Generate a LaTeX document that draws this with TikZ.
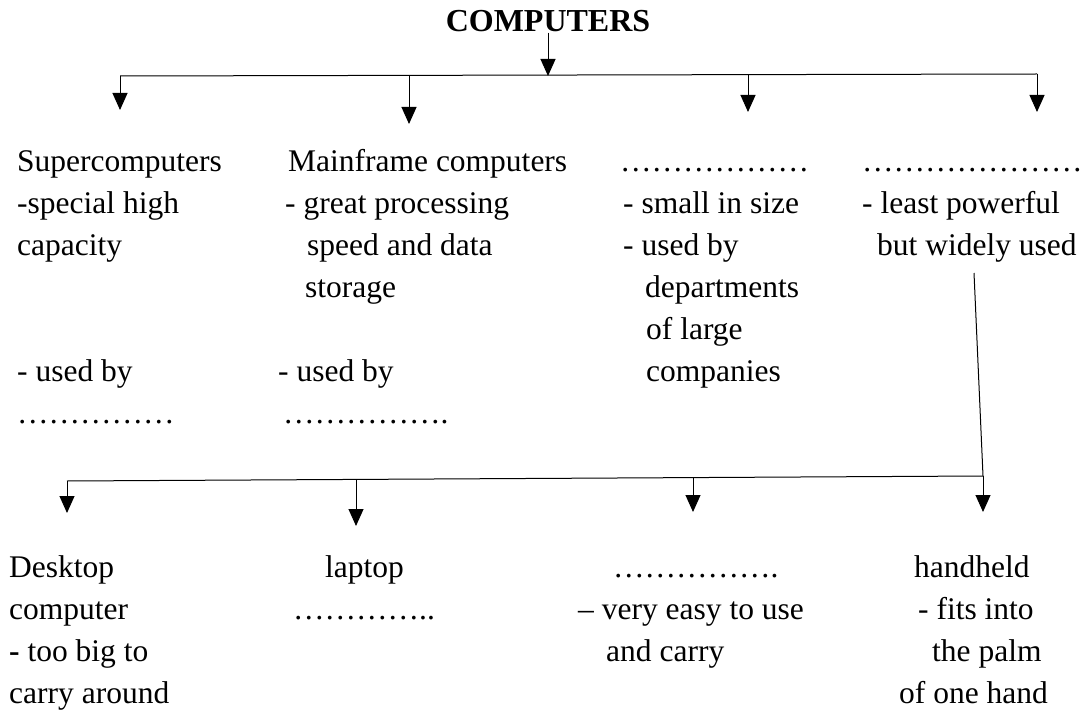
\documentclass[tikz,border=0pt]{standalone}
\usepackage{fontspec}
\setmainfont{Liberation Serif}
\usetikzlibrary{arrows.meta}

\begin{document}
\begin{tikzpicture}[x=1pt, y=-1pt,
  txt/.style={anchor=base west, inner sep=0pt, align=left,
    font=\fontsize{31.5pt}{42pt}\selectfont},
  arr/.style={-{Triangle[width=15pt,length=17pt]}, line width=1pt},
  bus/.style={line width=1pt}]

\useasboundingbox (0,0) rectangle (1083,711);

% Heading
\node (title) [anchor=base, inner sep=0pt, font=\fontsize{32pt}{40pt}\selectfont\bfseries]
  at (548,32) {COMPUTERS};

% First row of branches
\coordinate (t0) at (548,76);
\coordinate (busL) at (120,76);
\coordinate (busB) at (409,76);
\coordinate (busC) at (748,75);
\coordinate (busR) at (1037,74);
\draw[arr] (title.south) -- (t0);
\draw[bus] (busL) -- (busR);

\coordinate (a1) at (120,110);
\coordinate (a2) at (409,124);
\coordinate (a3) at (748,112);
\coordinate (a4) at (1037,112);
\draw[arr] (busL) -- (a1);
\draw[arr] (busB) -- (a2);
\draw[arr] (busC) -- (a3);
\draw[arr] (busR) -- (a4);

% Kinds of computers (each node sits on the baseline of its last line)
\node (super) [txt] at (17,255) {Supercomputers\\-special high\\capacity};
\node (superuse) [txt] at (17,423) {- used by\\……………};

\node (main) [txt] at (285,297)
  {\hspace*{3pt}Mainframe computers\\- great processing\\
   \hspace*{22pt}speed and data\\\hspace*{20pt}storage};
\node (mainuse) [txt] at (278,423) {- used by\\\hspace*{5pt}…………….};

\node (mini) [txt] at (620,381)
  {………………\\\hspace*{3pt}- small in size\\\hspace*{3pt}- used by\\
   \hspace*{25pt}departments\\\hspace*{26pt}of large\\\hspace*{26pt}companies};

\node (micro) [txt] at (862,255)
  {…………………\\- least powerful\\\hspace*{15pt}but widely used};

% Second row of branches
\coordinate (m0) at (974,273);
\coordinate (lowR) at (983,476);
\coordinate (lowL) at (67,481);
\coordinate (lowB) at (356,480);
\coordinate (lowC) at (693,478);
\draw[bus] (m0) -- (lowR);
\draw[bus] (lowL) -- (lowR);

\coordinate (b1) at (67,513);
\coordinate (b2) at (356,526);
\coordinate (b3) at (693,512);
\coordinate (b4) at (983,512);
\draw[arr] (lowL) -- (b1);
\draw[arr] (lowB) -- (b2);
\draw[arr] (lowC) -- (b3);
\draw[arr] (lowR) -- (b4);

% Kinds of microcomputers
\node (desk) [txt] at (9,703)
  {Desktop\\computer\\\textbf{-} too big to\\carry around};
\node (lap) [txt] at (293,619) {\hspace*{32pt}laptop\\…………..};
\node (tab) [txt] at (578,661)
  {\hspace*{35pt}…………….\\– very easy to use\\\hspace*{28pt}and carry};
\node (hand) [txt] at (899,703)
  {\hspace*{15pt}handheld\\\hspace*{19pt}- fits into\\
   \hspace*{33pt}the palm\\of one hand};

\end{tikzpicture}
\end{document}
